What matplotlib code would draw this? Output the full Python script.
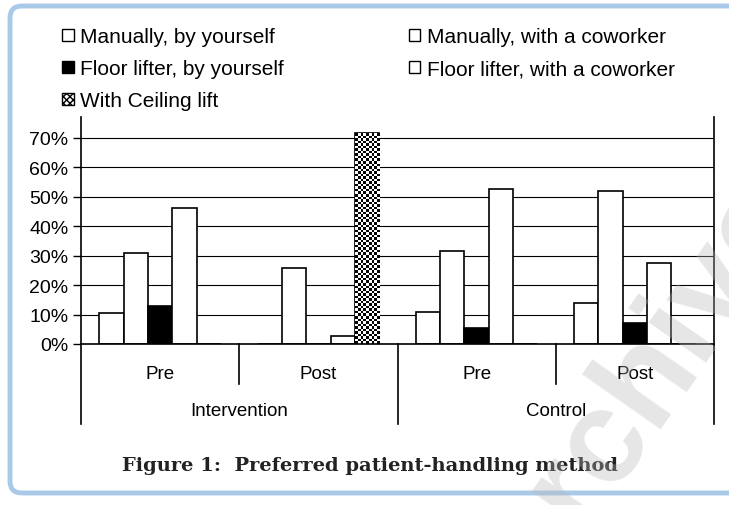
import matplotlib

matplotlib.use("Agg")
import matplotlib.pyplot as plt
import matplotlib.transforms as mtransforms
import numpy as np
from matplotlib.patches import FancyBboxPatch, Patch

# -- data --
groups = ["Intervention", "Control"]
phases = ["Pre", "Post", "Pre", "Post"]
series_names = [
    "Manually, by yourself",
    "Manually, with a coworker",
    "Floor lifter, by yourself",
    "Floor lifter, with a coworker",
    "With Ceiling lift",
]
manual_self = [0.104, 0.0, 0.108, 0.138]
manual_cowork = [0.309, 0.258, 0.316, 0.518]
floor_self = [0.129, 0.0, 0.054, 0.070]
floor_cowork = [0.461, 0.028, 0.527, 0.276]
ceiling_lift = [0.0, 0.716, 0.0, 0.0]
yticks = [0.0, 0.1, 0.2, 0.3, 0.4, 0.5, 0.6, 0.7]

plt.rcParams["font.family"] = ["Liberation Sans", "DejaVu Sans"]

W, H = 729, 506
fig = plt.figure(figsize=(W / 100, H / 100), dpi=100)
ax = fig.add_axes([81 / W, 1 - 345 / H, (714 - 81) / W, (345 - 118) / H])
ax.patch.set_alpha(0)

x = np.arange(len(phases))
bw = 1 / 6.5
all_series = [manual_self, manual_cowork, floor_self, floor_cowork, ceiling_lift]
faces = ["white", "white", "black", "white", "white"]
bars = []
for i, (vals, fc) in enumerate(zip(all_series, faces)):
    b = ax.bar(x + (i - 2) * bw, vals, bw, facecolor=fc, edgecolor="black",
               linewidth=1.2, zorder=2)
    bars.append(b)

# checkerboard fill for the ceiling-lift bars
fig.canvas.draw()
for p in bars[4].patches:
    h = p.get_height()
    if h <= 0:
        continue
    bb = p.get_window_extent()
    ncol = 9
    cell = bb.width / ncol
    nrow = max(1, int(round(bb.height / cell)))
    board = (np.indices((nrow, ncol)).sum(axis=0) % 2).astype(float)
    im = ax.imshow(board, cmap="gray", extent=(p.get_x(), p.get_x() + p.get_width(), 0, h),
                   aspect="auto", interpolation="nearest", zorder=2.5)
    im.set_clip_path(p)

ax.set_xlim(-0.5, len(phases) - 0.5)
ax.set_ylim(0, 0.771)
ax.set_yticks(yticks)
ax.set_yticklabels([f"{int(round(t * 100))}%" for t in yticks])
ax.set_xticks([])
ax.yaxis.grid(True, color="black", linewidth=0.8)
ax.set_axisbelow(True)
ax.tick_params(axis="y", direction="out", length=6, width=1, pad=3, labelsize=14)
ax.spines["top"].set_visible(False)
for s in ["left", "right", "bottom"]:
    ax.spines[s].set_linewidth(1.2)

# -- two-level category axis --
trans = mtransforms.blended_transform_factory(ax.transData, ax.transAxes)
seps = np.arange(len(phases) + 1) - 0.5
depths = [-0.352 if i % 2 == 0 else -0.176 for i in range(len(seps))]
for sx, d in zip(seps, depths):
    ax.plot([sx, sx], [0, d], color="black", lw=1.2, transform=trans, clip_on=False)
for xi, lab in zip(x, phases):
    ax.text(xi, -0.128, lab, transform=trans, ha="center", va="center", fontsize=13.5)
for gi, g in enumerate(groups):
    ax.text(2 * gi + 0.5, -0.291, g, transform=trans, ha="center", va="center", fontsize=13.5)

# -- legend (column-major order) --
handles = [
    Patch(facecolor="white", edgecolor="black", label=series_names[0]),
    Patch(facecolor="black", edgecolor="black", label=series_names[2]),
    Patch(facecolor="white", edgecolor="black", hatch="xxxxx", label=series_names[4]),
    Patch(facecolor="white", edgecolor="black", label=series_names[1]),
    Patch(facecolor="white", edgecolor="black", label=series_names[3]),
]
fig.legend(handles=handles, ncol=2, loc="upper left", bbox_to_anchor=(52 / W, 1 - 18 / H),
           frameon=False, fontsize=15, handlelength=0.55, handleheight=0.55,
           handletextpad=0.3, labelspacing=0.62, columnspacing=6.0, borderpad=0)

fig.text(370 / W, 1 - 466 / H, "Figure 1:  Preferred patient-handling method",
         ha="center", va="center", fontsize=14, fontweight="bold",
         family="DejaVu Serif", color="#222222")

# light blue rounded frame
frame = FancyBboxPatch((10, H - 494), W + 20, 487, boxstyle="round,pad=0,rounding_size=12",
                       facecolor="none", edgecolor="#a9c9e8", linewidth=3.5, transform=None)
fig.patches.append(frame)

fig.text(640 / W, 1 - 395 / H, "Archive", rotation=55, ha="center", va="center",
         fontsize=95, fontweight="bold", color="#b8b8b8", alpha=0.35, zorder=10)

fig.savefig("out.png", dpi=100)
plt.close(fig)
